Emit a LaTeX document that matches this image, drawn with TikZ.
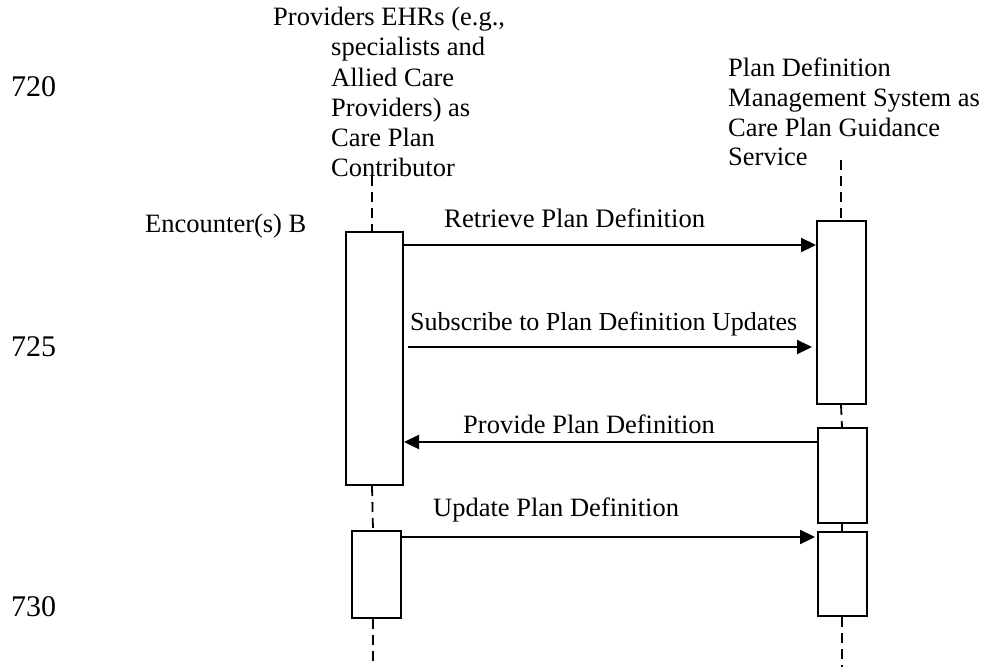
\documentclass[tikz,border=0pt]{standalone}
\usepackage{fontspec}
\setmainfont{Liberation Serif}
\usetikzlibrary{arrows.meta}
\begin{document}
\begin{tikzpicture}[x=1pt, y=-1pt,
  txt/.style={anchor=base west, inner sep=0pt, font=\fontsize{26.5}{30}\selectfont},
  num/.style={anchor=base west, inner sep=0pt, font=\fontsize{30}{34}\selectfont},
  actbox/.style={draw, line width=2pt, fill=white, rectangle, inner sep=0pt},
  lifeline/.style={line width=1.8pt, dash pattern=on 10pt off 6pt},
  msg/.style={line width=2.2pt, -{Triangle[length=15pt, width=14pt]}}]
\useasboundingbox (0,0) rectangle (982,667);

% step numbers
\node[num] (n720) at (11,96) {720};
\node[num] (n725) at (11,356) {725};
\node[num] (n730) at (11,616) {730};

% participant headings
\node[txt] (p1a) at (273,25) {Providers EHRs (e.g.,};
\node[txt] (p1b) at (331,55.5) {specialists and};
\node[txt] (p1c) at (331,86) {Allied Care};
\node[txt] (p1d) at (331,116) {Providers) as};
\node[txt] (p1e) at (331,146) {Care Plan};
\node[txt] (p1f) at (331,176) {Contributor};

\node[txt] (p2a) at (728,76) {Plan Definition};
\node[txt] (p2b) at (728,106) {Management System as};
\node[txt] (p2c) at (728,136) {Care Plan Guidance};
\node[txt] (p2d) at (728,165) {Service};

\node[txt] (enc) at (145,232) {Encounter(s) B};

% activation boxes
\node[actbox, minimum width=57pt, minimum height=253pt] (L1) at (374.5,358.5) {};
\node[actbox, minimum width=49pt, minimum height=87pt] (L2) at (376.5,574.5) {};
\node[actbox, minimum width=49pt, minimum height=183pt] (R1) at (841.5,312.5) {};
\node[actbox, minimum width=49pt, minimum height=95pt] (R2) at (842.5,475.5) {};
\node[actbox, minimum width=49pt, minimum height=84pt] (R3) at (842.5,574) {};

% lifeline ends
\coordinate (ltop) at (372,176);
\coordinate (lbot) at (373,667);
\coordinate (rtop) at (841,160);
\coordinate (rbot) at (842,667);

% lifelines
\draw[lifeline] (ltop) -- (ltop |- L1.north);
\draw[lifeline] (L1.south -| ltop) -- (L2.north -| lbot);
\draw[lifeline] (L2.south -| lbot) -- (lbot);
\draw[lifeline] (rtop) -- (rtop |- R1.north);
\draw[lifeline] (R1.south -| rtop) -- (R2.north -| rbot);
\draw[lifeline, solid] (R2.south -| rbot) -- (R3.north -| rbot);
\draw[lifeline] (R3.south -| rbot) -- (rbot);

% messages
\draw[msg] (L1.east |- 0,245) -- (R1.west |- 0,245);
\draw[msg, shorten <=4pt, shorten >=4pt] (L1.east |- 0,347) -- (R1.west |- 0,347);
\draw[msg] (R2.west |- 0,442) -- (L1.east |- 0,442);
\draw[msg, shorten >=2pt] (L2.east |- 0,537) -- (R3.west |- 0,537);

% message labels
\node[txt, font=\fontsize{26.7}{30}\selectfont] (m1) at (444,227) {Retrieve Plan Definition};
\node[txt, font=\fontsize{26}{30}\selectfont] (m2) at (410,330) {Subscribe to Plan Definition Updates};
\node[txt] (m3) at (463,433) {Provide Plan Definition};
\node[txt] (m4) at (433,516) {Update Plan Definition};
\end{tikzpicture}
\end{document}
